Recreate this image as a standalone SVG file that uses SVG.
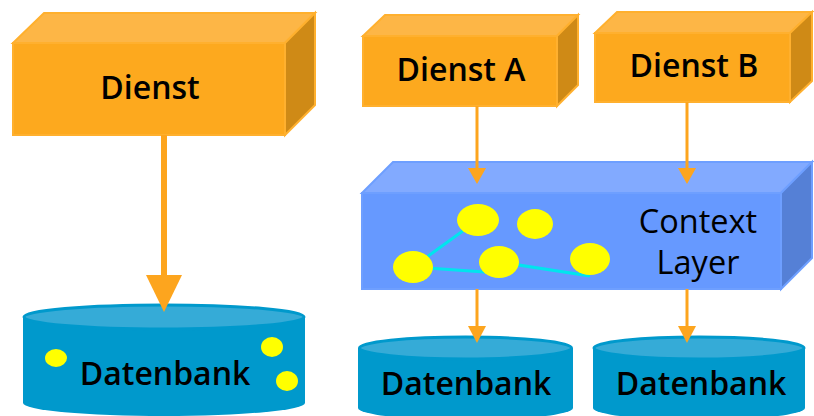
<svg xmlns="http://www.w3.org/2000/svg" width="814" height="416" viewBox="0 0 814 416">
<defs>
<style>
.of{fill:#FDA91E;stroke:#FFB02E;stroke-width:2;stroke-linejoin:miter}
.ot{fill:#FDB646;stroke:#FFB02E;stroke-width:2}
.os{fill:#CF8A16;stroke:#FFB02E;stroke-width:2}
.bf{fill:#6699FF;stroke:#6E9FFF;stroke-width:2}
.bt{fill:#82AAFF;stroke:#6E9FFF;stroke-width:2}
.bs{fill:#5580D6;stroke:#6E9FFF;stroke-width:2}
.cb{fill:#0099CC}
.ct{fill:#35ABD7;stroke:#0099CC;stroke-width:3}
.y{fill:#FFFF00}
.e{stroke:#00E5EE;stroke-width:3}
.t{font-family:"Open Sans","Noto Sans","DejaVu Sans",sans-serif;fill:#000;text-anchor:middle}
.b{font-weight:600;font-size:32px}
.n{font-weight:400;font-size:32.5px}
.a{stroke:#FDA51E;fill:none}
.ah{fill:#FDA51E}
</style>
</defs>
<g id="dienst">
<polygon class="ot" points="13,43 44,13 315,13 285,43"/>
<polygon class="os" points="285,43 315,13 315,105 285,135"/>
<rect class="of" x="13" y="43" width="272" height="92"/>
<text class="t b" x="150" y="99">Dienst</text>
</g>
<g id="dienstA">
<polygon class="ot" points="363,36 385,15 578,15 557,36"/>
<polygon class="os" points="557,36 578,15 578,85 557,106"/>
<rect class="of" x="363" y="36" width="194" height="70"/>
<text class="t b" x="461" y="81">Dienst A</text>
</g>
<g id="dienstB">
<polygon class="ot" points="595,33 617,12 812,12 790,33"/>
<polygon class="os" points="790,33 812,12 812,81 790,102"/>
<rect class="of" x="595" y="33" width="195" height="69"/>
<text class="t b" x="694" y="77">Dienst B</text>
</g>
<g id="context">
<polygon class="bt" points="362,193 393,162 812,162 781,193"/>
<polygon class="bs" points="781,193 812,162 812,258 781,289"/>
<rect class="bf" x="362" y="193" width="419" height="96"/>
<line class="e" x1="413" y1="267" x2="478" y2="220"/>
<line class="e" x1="413" y1="267" x2="499" y2="273"/>
<line class="e" x1="499" y1="262" x2="590" y2="276"/>
<ellipse class="y" cx="478" cy="220" rx="21" ry="16"/>
<ellipse class="y" cx="535" cy="224" rx="18" ry="15"/>
<ellipse class="y" cx="413" cy="267" rx="20" ry="16"/>
<ellipse class="y" cx="499" cy="262" rx="20" ry="16"/>
<ellipse class="y" cx="590" cy="259" rx="20" ry="16"/>
<text class="t n" x="698" y="233">Context</text>
<text class="t n" x="698" y="274">Layer</text>
</g>
<g id="db1">
<path class="cb" d="M23,317 L23,403 A141,13 0 0 0 305,403 L305,317 Z"/>
<ellipse class="ct" cx="164" cy="317" rx="140" ry="12"/>
<ellipse class="y" cx="56" cy="358" rx="11" ry="9"/>
<ellipse class="y" cx="272" cy="347" rx="11" ry="10"/>
<ellipse class="y" cx="287" cy="381" rx="11" ry="10"/>
<text class="t b" x="165" y="385">Datenbank</text>
</g>
<g id="db2">
<path class="cb" d="M358,348 L358,408 A107.5,12 0 0 0 573,408 L573,348 Z"/>
<ellipse class="ct" cx="465.5" cy="348" rx="106" ry="11"/>
<text class="t b" x="466" y="395">Datenbank</text>
</g>
<g id="db3">
<path class="cb" d="M593,348 L593,408 A106,12 0 0 0 805,408 L805,348 Z"/>
<ellipse class="ct" cx="699" cy="348" rx="105" ry="11"/>
<text class="t b" x="701" y="395">Datenbank</text>
</g>
<g id="connectors">
<line class="a" x1="164" y1="135" x2="164" y2="276" stroke-width="6"/>
<polygon class="ah" points="146,275 182,275 164,312"/>
<line class="a" x1="477" y1="106" x2="477" y2="169" stroke-width="3"/>
<polygon class="ah" points="468,168 486,168 477,184"/>
<line class="a" x1="687" y1="102" x2="687" y2="169" stroke-width="3"/>
<polygon class="ah" points="678,168 696,168 687,184"/>
<line class="a" x1="477" y1="289" x2="477" y2="327" stroke-width="3"/>
<polygon class="ah" points="468,326 486,326 477,343"/>
<line class="a" x1="687" y1="289" x2="687" y2="327" stroke-width="3"/>
<polygon class="ah" points="678,326 696,326 687,343"/>
</g>
</svg>
